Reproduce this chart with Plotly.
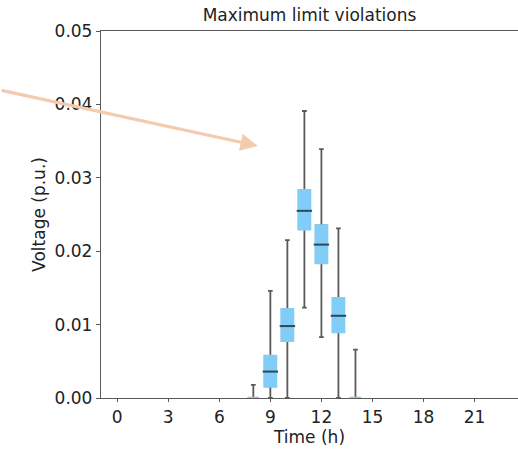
import plotly.graph_objects as go

hours = [8, 9, 10, 11, 12, 13, 14]
lower = [0.0, 0.0, 0.0, 0.0123, 0.0083, 0.0, 0.0]
q1 = [0.0, 0.0016, 0.0078, 0.0230, 0.0184, 0.0090, 0.0]
median = [0.0, 0.0036, 0.0098, 0.0255, 0.0209, 0.0112, 0.0]
q3 = [0.0, 0.0057, 0.0121, 0.0283, 0.0235, 0.0136, 0.0]
upper = [0.0018, 0.0146, 0.0215, 0.0391, 0.0339, 0.0231, 0.0066]

x_ticks = [0, 3, 6, 9, 12, 15, 18, 21]
y_ticks = [0.00, 0.01, 0.02, 0.03, 0.04, 0.05]

BLUE = "#82cdf8"
DARK = "#5a5a5a"
TXT = "#222222"
FS = 17
font = dict(family="DejaVu Sans", size=FS, color=TXT)

fig = go.Figure()
# whiskers (dark)
fig.add_trace(go.Box(
    x=hours, q1=q1, median=median, q3=q3, lowerfence=lower, upperfence=upper,
    fillcolor=BLUE, line=dict(color=DARK, width=1.8), width=0.66,
    whiskerwidth=0.42, boxpoints=False, hoverinfo="skip", showlegend=False))
# boxes (light blue, no dark outline)
fig.add_trace(go.Box(
    x=hours, q1=q1, median=q1, q3=q3, lowerfence=q1, upperfence=q3,
    fillcolor=BLUE, line=dict(color=BLUE, width=2.6), width=0.66,
    whiskerwidth=0, boxpoints=False, hoverinfo="skip", showlegend=False))
# medians
mx = [h for h, a, b in zip(hours, q1, q3) if b > a]
my = [m for m, a, b in zip(median, q1, q3) if b > a]
fig.add_trace(go.Scatter(
    x=mx, y=my, mode="markers",
    marker=dict(symbol="line-ew", size=11, line=dict(color="#2f4858", width=2)),
    hoverinfo="skip", showlegend=False))

fig.update_layout(
    width=518, height=449,
    margin=dict(l=101, r=0, t=31, b=51),
    paper_bgcolor="white", plot_bgcolor="white",
    font=font,
    title=dict(text="Maximum limit violations", x=0.5, xref="paper",
               y=1, yref="container", yanchor="top", pad=dict(t=9),
               font=dict(family="DejaVu Sans", size=FS, color=TXT)),
    xaxis=dict(range=[-0.95, 23.55], tickvals=x_ticks, ticktext=[str(v) for v in x_ticks],
               showgrid=False, zeroline=False, showline=True, linecolor=DARK,
               linewidth=1.3, mirror=True, ticks="outside", ticklen=3,
               tickcolor=DARK, tickfont=dict(family="DejaVu Sans", size=FS, color=TXT),
               title=dict(text="Time (h)", standoff=4,
                          font=dict(family="DejaVu Sans", size=FS, color=TXT))),
    yaxis=dict(range=[0, 0.05], tickvals=y_ticks, ticktext=[f"{v:.2f}" for v in y_ticks],
               showgrid=False, zeroline=False, showline=True, linecolor=DARK,
               linewidth=1.3, mirror=False, ticks="outside", ticklen=4,
               tickcolor=DARK, tickfont=dict(family="DejaVu Sans", size=FS, color=TXT),
               title=dict(text="Voltage (p.u.)", standoff=4,
                          font=dict(family="DejaVu Sans", size=FS, color=TXT))),
    annotations=[dict(
        x=(258 - 101) / 417, y=(398 - 146) / 367, xref="paper", yref="paper",
        ax=-265, ay=-56, axref="pixel", ayref="pixel",
        showarrow=True, arrowhead=2, arrowsize=1.1, arrowwidth=3.2,
        arrowcolor="#f4cbb0", text="")],
)

fig.write_html("out.html")
